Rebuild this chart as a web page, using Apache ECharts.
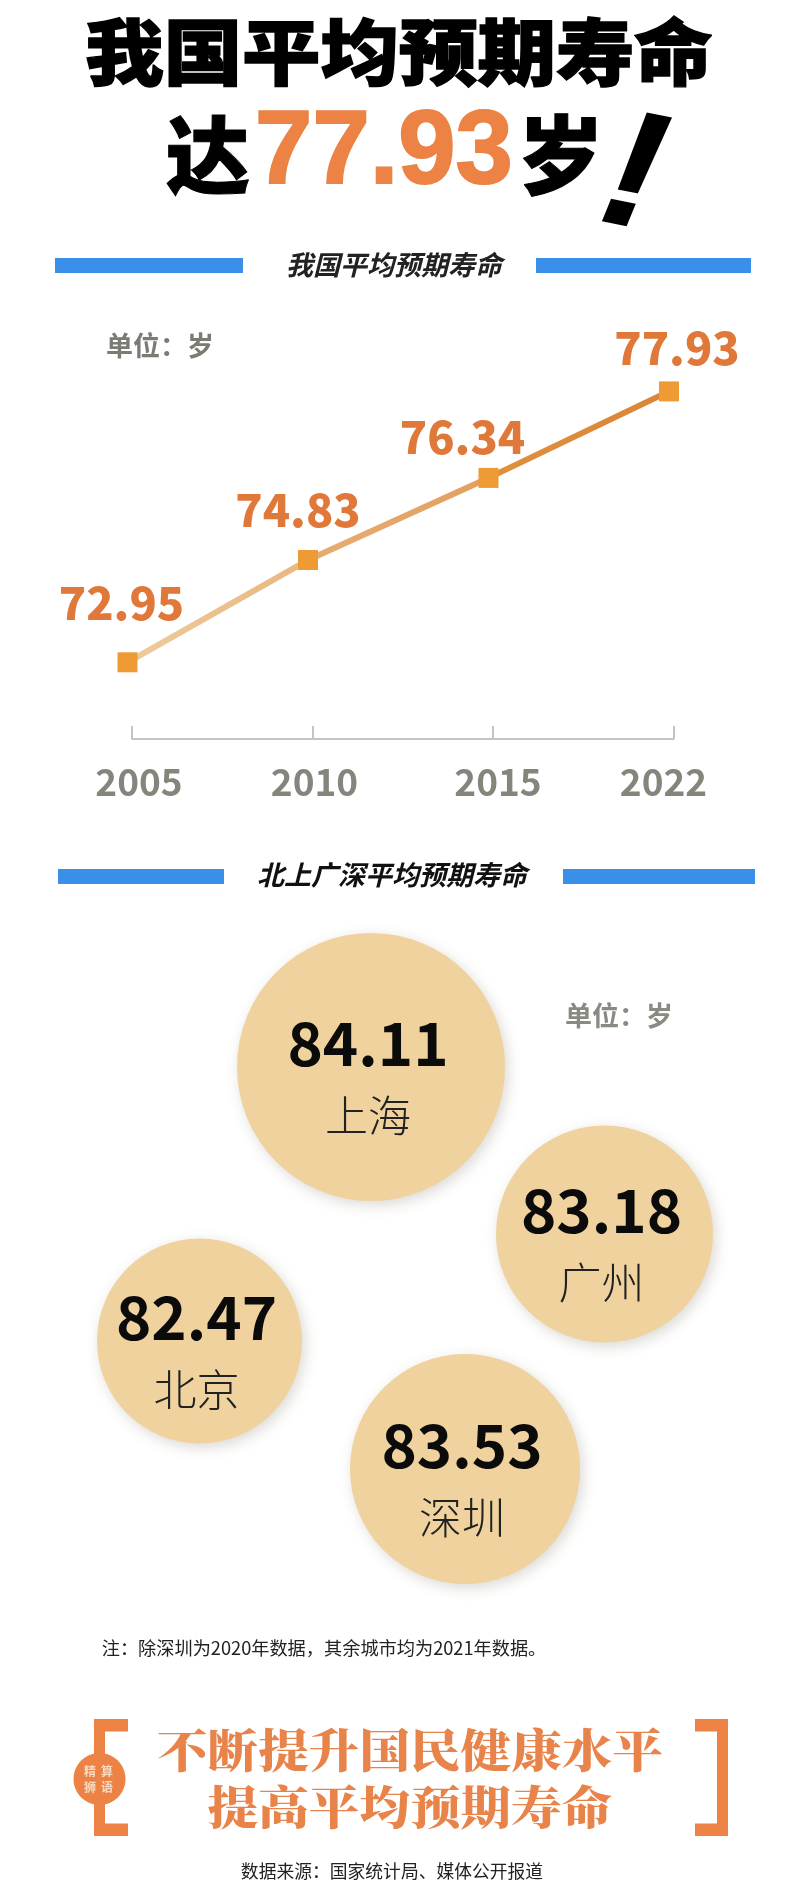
<!DOCTYPE html>
<html><head><meta charset="utf-8">
<style>html,body{margin:0;padding:0;background:#fff}#c{width:800px;height:1904px}</style>
<script src="https://cdn.jsdelivr.net/npm/echarts@6/dist/echarts.min.js"></script>
</head><body><div id="c"></div>
<script>
var years = ['2005','2010','2015','2022'];
var lifeValues = [72.95,74.83,76.34,77.93];
var cities = ['上海','广州','北京','深圳'];
var cityValues = [84.11,83.18,82.47,83.53];

var labelNudge = [[-6,-59],[-10,-50],[-26,-41],[8,-43]];
var tickLabelPad = [14,4,10,-20];
var bubbleX = [371,604.5,199.5,465];
var bubbleY = [1067,1234,1341,1469];
var bubbleD = [268,217,205,230];

var SANS = '"Noto Sans CJK SC","Noto Sans",sans-serif';
var SERIF = '"Noto Serif CJK SC","Noto Sans CJK SC",serif';
var ORANGE = '#ec8244', BLUE = '#3a8fe8', GRAY = '#85857c';

function txt(s,x,y,size,color,extra){
  var st = {text:s,x:x,y:y,fill:color,align:'center',verticalAlign:'middle',
    font:(extra&&extra.style||'normal')+' '+(extra&&extra.weight||'bold')+' '+size+'px '+(extra&&extra.family||SANS)};
  if(extra&&extra.stroke){st.stroke=extra.stroke;st.lineWidth=extra.lw||1;}
  var o={type:'text',style:st,x:0,y:0,z:20};
  if(extra&&extra.sx){
    st.x=0;st.y=0;o.x=x;o.y=y;o.scaleX=extra.sx;o.scaleY=extra.sy||1;
  }
  if(extra&&extra.rot){st.x=0;st.y=0;o.x=x;o.y=y;o.rotation=extra.rot;}
  return o;
}
function rect(x,y,w,h,c){return {type:'rect',shape:{x:x,y:y,width:w,height:h},style:{fill:c},z:10};}

var graphics = [
  txt('我国平均预期寿命',399,52,74,'#000',{weight:900,sx:1.06,sy:0.97,stroke:'#000',lw:1.5}),
  txt('达',208,155,84,'#000',{weight:900,stroke:'#000',lw:1}),
  txt('77.93',384,155,103,ORANGE,{family:'"Liberation Sans",sans-serif',stroke:ORANGE,lw:2}),
  txt('岁',561,155,86,'#000',{weight:900,stroke:'#000',lw:1}),
  txt('!',633,180,165,'#000',{family:'"Liberation Sans",sans-serif',style:'italic',rot:-0.2,stroke:'#000',lw:2}),

  rect(55,258,188,15,BLUE), rect(536,258,215,15,BLUE),
  txt('我国平均预期寿命',394,265,27,'#222',{style:'italic'}),
  rect(58,869,166,15,BLUE), rect(563,869,192,15,BLUE),
  txt('北上广深平均预期寿命',392,875,27,'#111',{style:'italic'}),

  txt('单位：岁',160,346,27,'#7b7b74'),
  txt('单位：岁',619,1016,27,'#8a8a82'),
  txt('注：除深圳为2020年数据，其余城市均为2021年数据。',324,1648,18.2,'#222',{weight:'normal'}),

  rect(94,1719,11,117,ORANGE), rect(94,1719,34,12.5,ORANGE), rect(94,1823.5,34,12.5,ORANGE),
  rect(717,1719,11,117,ORANGE), rect(695,1719,33,12.5,ORANGE), rect(695,1823.5,33,12.5,ORANGE),
  {type:'ellipse',shape:{cx:99.5,cy:1779,rx:26,ry:26},style:{fill:ORANGE},z:11},
  txt('精',90,1771,12,'#f8d9c2'),
  txt('算',107,1771,12,'#f8d9c2'),
  txt('狮',90,1787,12,'#f8d9c2'),
  txt('语',107,1787,12,'#f8d9c2'),
  txt('不断提升国民健康水平',410,1750,46,'#e8834a',{family:SERIF,weight:900,sx:1.1}),
  txt('提高平均预期寿命',410,1807,46,'#e8834a',{family:SERIF,weight:900,sx:1.1}),
  txt('数据来源：国家统计局、媒体公开报道',392,1871,17.8,'#222',{weight:'normal'})
];

var option = {
  backgroundColor:'#fff',
  animation:false,
  graphic:{elements:graphics},
  grid:[
    {left:127.5,right:131,top:360.4,height:378.6},
    {left:132,right:126.5,top:360.4,height:378.6},
    {left:0,top:0,width:800,height:1904}
  ],
  xAxis:[
    {gridIndex:0,type:'category',boundaryGap:false,data:years,axisLine:{show:false},axisTick:{show:false},axisLabel:{show:false}},
    {gridIndex:1,type:'category',boundaryGap:false,
      data:years.map(function(y,i){return {value:y,textStyle:{padding:tickLabelPad[i]>0?[0,0,0,tickLabelPad[i]]:[0,-tickLabelPad[i],0,0]}};}),
      axisLine:{lineStyle:{color:'#c4c4c4',width:2}},
      axisTick:{inside:true,length:13,alignWithLabel:true,lineStyle:{color:'#c4c4c4',width:2}},
      axisLabel:{margin:24,fontSize:37,fontWeight:'bold',color:GRAY,fontFamily:SANS,interval:0,showMinLabel:true,showMaxLabel:true,hideOverlap:false}},
    {gridIndex:2,type:'value',min:0,max:800,show:false}
  ],
  yAxis:[
    {gridIndex:0,type:'value',min:71.54,max:78.5,show:false},
    {gridIndex:1,type:'value',min:71.54,max:78.5,show:false},
    {gridIndex:2,type:'value',min:0,max:1904,inverse:true,show:false}
  ],
  series:[
    {type:'line',xAxisIndex:0,yAxisIndex:0,symbol:'rect',symbolSize:20,z:5,
      lineStyle:{width:6,color:{type:'linear',x:0,y:0,x2:1,y2:0,colorStops:[{offset:0,color:'#eecb9c'},{offset:0.33,color:'#e8b880'},{offset:0.34,color:'#e6ad70'},{offset:0.66,color:'#e2a060'},{offset:0.67,color:'#e0903f'},{offset:1,color:'#dc8436'}]}},
      itemStyle:{color:'#ee9a35'},
      data:lifeValues.map(function(v,i){return {value:v,label:{offset:labelNudge[i]}};}),
      label:{show:true,position:'inside',color:'#e0783a',fontSize:45,fontWeight:900,fontFamily:SANS,
        formatter:function(p){return p.value.toFixed(2);}}},
    {type:'scatter',xAxisIndex:2,yAxisIndex:2,z:4,symbol:'circle',
      data:cities.map(function(c,i){return {name:c,value:[bubbleX[i],bubbleY[i],cityValues[i]],symbolSize:bubbleD[i]};}),
      itemStyle:{color:'#efd29d',opacity:1,shadowColor:'rgba(90,80,60,0.22)',shadowBlur:14,shadowOffsetX:3,shadowOffsetY:4},
      label:{show:true,position:'inside',offset:[-3,13],
        formatter:function(p){return '{v|'+p.value[2].toFixed(2)+'}\n{c|'+p.name+'}';},
        rich:{v:{fontSize:60,fontWeight:'bold',color:'#0b0b0b',fontFamily:SANS,lineHeight:72,align:'center'},
              c:{fontSize:43,fontWeight:300,color:'#222',fontFamily:SANS,lineHeight:74,align:'center'}}}}
  ]
};
var chart = echarts.init(document.getElementById('c'),null,{renderer:'canvas',width:800,height:1904});
chart.setOption(option);
</script></body></html>
